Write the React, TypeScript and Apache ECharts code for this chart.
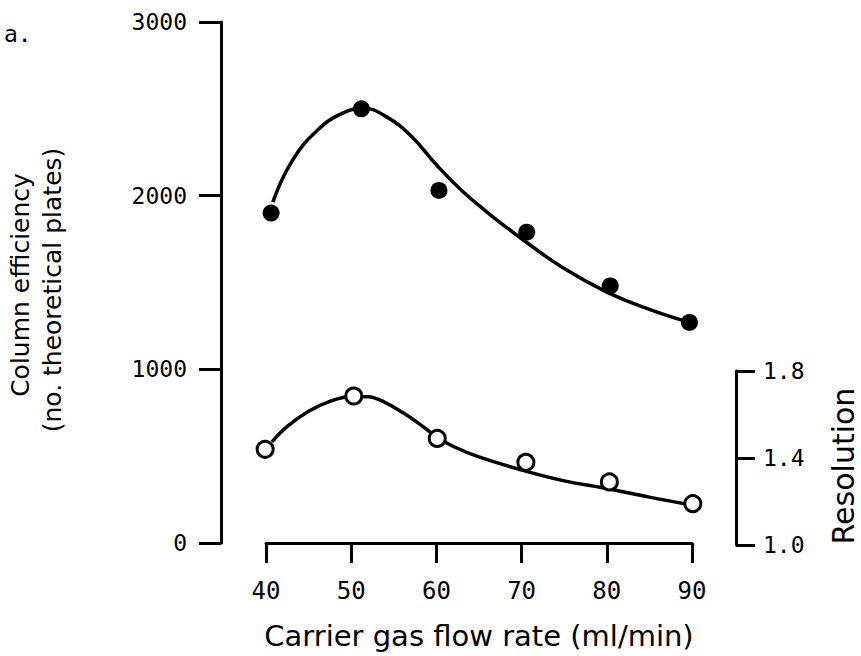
import React, { useEffect, useRef } from "react";
import * as echarts from "echarts";

// Column efficiency (filled circles)
const effPointsX = [40.6, 51.2, 60.3, 70.6, 80.4, 89.7];
const effPointsY = [1900, 2500, 2030, 1790, 1480, 1270];
// Resolution (open circles)
const resPointsX = [39.9, 50.3, 60.1, 70.5, 80.3, 90.1];
const resPointsY = [1.44, 1.685, 1.49, 1.38, 1.29, 1.19];
// Fitted curves
const effCurveX = [40.8, 43, 46, 49, 51.5, 54, 57, 60, 63, 66, 70, 75, 80, 85, 89.7];
const effCurveY = [1963, 2195, 2375, 2475, 2502, 2458, 2345, 2178, 2028, 1903, 1752, 1580, 1445, 1345, 1270];
const resCurveX = [40.7, 42.5, 45, 47.5, 50, 52, 54, 56, 58, 60, 62, 65, 70, 75, 80, 85, 89.8];
const resCurveY = [1.474, 1.545, 1.615, 1.66, 1.683, 1.682, 1.655, 1.61, 1.557, 1.498, 1.453, 1.405, 1.345, 1.295, 1.26, 1.22, 1.185];

const xTitle = "Carrier gas flow rate (ml/min)";
const yTitle1 = "Column efficiency";
const yTitle2 = "(no. theoretical plates)";
const rTitle = "Resolution";
const panelLabel = "a.";

const zip = (xs: number[], ys: number[]) => xs.map((x, i) => [x, ys[i]]);

const MONO = "DejaVu Sans Mono";
const SANS = "DejaVu Sans";

export default function App() {
  const ref = useRef<HTMLDivElement>(null);
  useEffect(() => {
    if (!ref.current) return;
    const chart = echarts.init(ref.current, undefined, { renderer: "svg" });
    const axisLine = { show: true, lineStyle: { color: "#000", width: 3 } };
    const vText = (text: string, x: number, y: number, size: number) => ({
      type: "text",
      x,
      y,
      rotation: Math.PI / 2,
      style: {
        text,
        fill: "#000",
        font: `${size}px "${SANS}"`,
        textAlign: "center",
        textVerticalAlign: "middle",
      },
    });
    chart.setOption({
      animation: false,
      backgroundColor: "#fff",
      grid: [
        { left: 266, right: 169, top: 22, bottom: 113 },
        { left: 266, right: 169, top: 371, bottom: 111 },
      ],
      xAxis: [
        {
          gridIndex: 0,
          type: "value",
          min: 40,
          max: 90,
          interval: 10,
          offset: 4,
          axisLine,
          axisTick: { show: true, length: 20, lineStyle: { color: "#000", width: 3 } },
          axisLabel: { margin: 32, color: "#000", fontFamily: MONO, fontSize: 24 },
          splitLine: { show: false },
          name: xTitle,
          nameLocation: "middle",
          nameGap: 74,
          nameTextStyle: { color: "#000", fontFamily: SANS, fontSize: 29 },
        },
        { gridIndex: 1, type: "value", min: 40, max: 90, show: false },
      ],
      yAxis: [
        {
          gridIndex: 0,
          type: "value",
          min: 0,
          max: 3000,
          interval: 1000,
          position: "left",
          offset: 45,
          axisLine,
          axisTick: { show: true, length: 22, lineStyle: { color: "#000", width: 3 } },
          axisLabel: {
            margin: 34,
            color: "#000",
            fontFamily: MONO,
            fontSize: 23,
            formatter: (v: number) => String(v),
          },
          splitLine: { show: false },
        },
        {
          gridIndex: 1,
          type: "value",
          min: 1.0,
          max: 1.8,
          interval: 0.4,
          position: "right",
          offset: 44,
          axisLine,
          axisTick: { show: true, length: 19, lineStyle: { color: "#000", width: 3 } },
          axisLabel: {
            margin: 27,
            color: "#000",
            fontFamily: MONO,
            fontSize: 23,
            formatter: (v: number) => v.toFixed(1),
          },
          splitLine: { show: false },
        },
      ],
      graphic: [
        vText(yTitle1, 20, 285, 25),
        vText(yTitle2, 52, 290, 25),
        vText(rTitle, 843, 466, 30),
        {
          type: "text",
          x: 4,
          y: 34,
          style: {
            text: panelLabel,
            fill: "#000",
            font: `23px "${MONO}"`,
            textAlign: "left",
            textVerticalAlign: "middle",
          },
        },
      ],
      series: [
        {
          type: "line",
          xAxisIndex: 0,
          yAxisIndex: 0,
          data: zip(effCurveX, effCurveY),
          smooth: 0.45,
          symbol: "none",
          lineStyle: { color: "#000", width: 3.5 },
          z: 2,
        },
        {
          type: "scatter",
          xAxisIndex: 0,
          yAxisIndex: 0,
          data: zip(effPointsX, effPointsY),
          symbol: "circle",
          symbolSize: 17,
          clip: false,
          itemStyle: { color: "#000", opacity: 1 },
          z: 3,
        },
        {
          type: "line",
          xAxisIndex: 1,
          yAxisIndex: 1,
          data: zip(resCurveX, resCurveY),
          smooth: 0.4,
          symbol: "none",
          lineStyle: { color: "#000", width: 3.5 },
          z: 2,
        },
        {
          type: "scatter",
          xAxisIndex: 1,
          yAxisIndex: 1,
          data: zip(resPointsX, resPointsY),
          symbol: "circle",
          symbolSize: 16,
          clip: false,
          itemStyle: { color: "#fff", borderColor: "#000", borderWidth: 3, opacity: 1 },
          z: 4,
        },
      ],
    });
    return () => chart.dispose();
  }, []);
  return (
    <div
      ref={ref}
      style={{ position: "fixed", left: 0, top: 0, width: 861, height: 656, background: "#fff" }}
    />
  );
}
